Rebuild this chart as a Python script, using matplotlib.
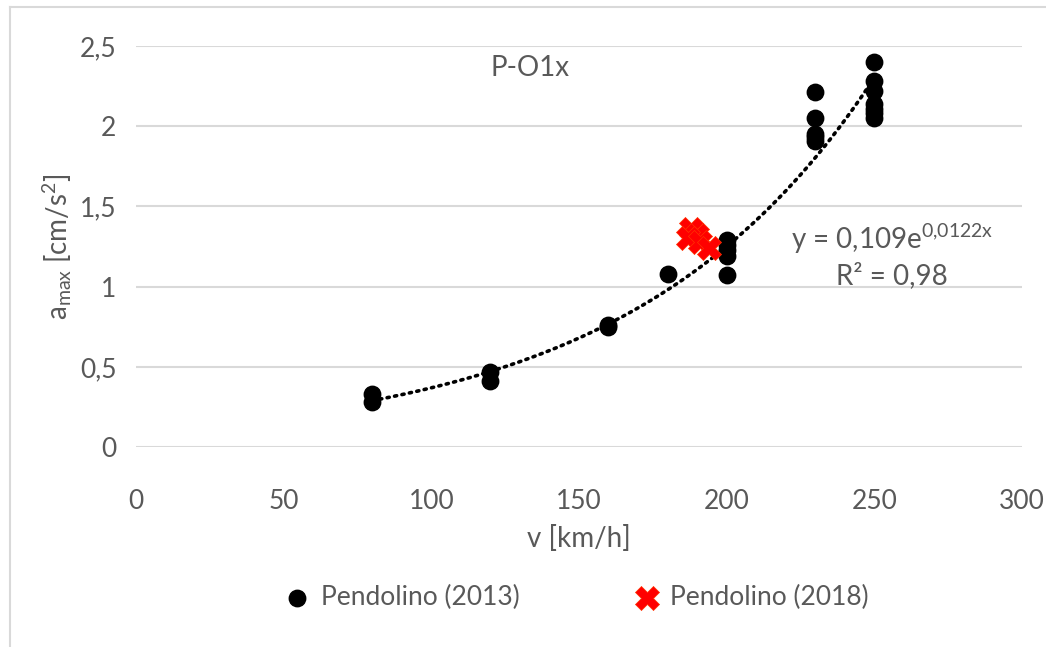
import numpy as np
import matplotlib.pyplot as plt
from matplotlib.lines import Line2D
from matplotlib.ticker import FuncFormatter

plt.rcParams['font.family'] = ['Lato', 'DejaVu Sans']
plt.rcParams['mathtext.default'] = 'regular'

# Pendolino (2013)
v_2013 = [80, 80, 120, 120, 160, 160, 180,
          200, 200, 200, 200, 200,
          230, 230, 230, 230, 230,
          250, 250, 250, 250, 250, 250, 250]
a_2013 = [0.33, 0.28, 0.47, 0.41, 0.76, 0.75, 1.08,
          1.29, 1.26, 1.23, 1.19, 1.07,
          2.21, 2.05, 1.95, 1.93, 1.91,
          2.40, 2.28, 2.22, 2.14, 2.11, 2.08, 2.05]

# Pendolino (2018)
v_2018 = [188, 190, 187, 191, 194]
a_2018 = [1.36, 1.32, 1.30, 1.28, 1.24]

# trend y = 0,109 e^(0,0122x)
fit_a, fit_b = 0.109, 0.0122

gray = '#595959'

fig = plt.figure(figsize=(10.46, 6.47), dpi=100)
ax = fig.add_axes([0.130, 0.309, 0.847, 0.620])

x_fit = np.linspace(min(v_2013), max(v_2013), 200)
ax.plot(x_fit, fit_a * np.exp(fit_b * x_fit), color='black', lw=2.6,
        linestyle=(0, (0.6, 1.5)), dash_capstyle='round', zorder=2)

ax.scatter(v_2013, a_2013, s=140, color='black', zorder=3, label='Pendolino (2013)')
ax.scatter(v_2018, a_2018, s=300, marker='X', color='#ff0000', edgecolors='#ff3300',
           linewidths=0.5, zorder=4, label='Pendolino (2018)')

ax.set_xlim(0, 300)
ax.set_ylim(0, 2.5)
ax.set_xticks(np.arange(0, 301, 50))
ax.set_yticks(np.arange(0, 2.51, 0.5))
ax.yaxis.set_major_formatter(FuncFormatter(lambda v, p: f'{v:g}'.replace('.', ',')))
ax.grid(axis='y', color='#d9d9d9', lw=1.5)
ax.set_axisbelow(True)
for s in ax.spines.values():
    s.set_visible(False)
ax.tick_params(length=0, labelsize=19, labelcolor=gray)
ax.tick_params(axis='x', pad=30)
ax.tick_params(axis='y', pad=14)

ax.set_xlabel('v [km/h]', fontsize=20, color=gray, labelpad=8)
ax.set_ylabel('a$_{max}$ [cm/s$^{2}$]', fontsize=20, color=gray, labelpad=4)

ax.text(0.445, 0.945, 'P-O1x', transform=ax.transAxes, fontsize=20, color=gray,
        ha='center', va='center')
ax.text(256, 1.30, 'y = 0,109e$^{0{,}0122x}$', fontsize=20, color=gray, ha='center', va='center')
ax.text(256, 1.07, 'R² = 0,98', fontsize=20, color=gray, ha='center', va='center')

fig.legend(loc='center', bbox_to_anchor=(0.545, 0.077), ncol=2, frameon=False,
           fontsize=19, labelcolor=gray, columnspacing=3.8, handletextpad=-0.1,
           markerscale=1.0)

# outer chart border
fig.add_artist(Line2D([10 / 1046, 10 / 1046], [0, 1 - 7 / 647], color='#d9d9d9', lw=1.5))
fig.add_artist(Line2D([10 / 1046, 1], [1 - 7 / 647, 1 - 7 / 647], color='#d9d9d9', lw=1.5))

fig.savefig('out.png', dpi=100)
